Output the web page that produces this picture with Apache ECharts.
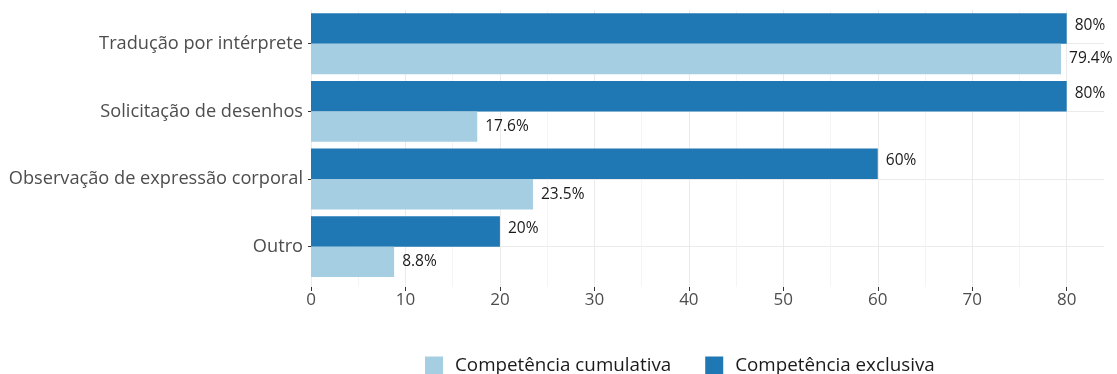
<!DOCTYPE html>
<html>
<head>
<meta charset="utf-8">
<script src="https://cdn.jsdelivr.net/npm/echarts@6/dist/echarts.min.js"></script>
<style>
  html, body { margin: 0; padding: 0; background: #ffffff; }
  #chart { width: 1117px; height: 374px; }
</style>
</head>
<body>
<div id="chart"></div>
<script>
// Categories, top to bottom
const categories = [
  'Tradução por intérprete',
  'Solicitação de desenhos',
  'Observação de expressão corporal',
  'Outro'
];
// Series names
const nameExclusiva = 'Competência exclusiva';
const nameCumulativa = 'Competência cumulativa';
// Percent values per category
const exclusivaValues = [80, 80, 60, 20];
const cumulativaValues = [79.4, 17.6, 23.5, 8.8];
// Value axis range and step
const xMin = 0;
const xMax = 80;
const xStep = 10;

const FONT = 'Open Sans';
const chart = echarts.init(document.getElementById('chart'), null, { renderer: 'canvas' });

function valueLabel(dy) {
  return {
    show: true,
    position: 'right',
    distance: 8,
    offset: [0, dy],
    color: '#1a1a1a',
    fontFamily: FONT,
    fontSize: 15.5,
    formatter: p => p.value + '%'
  };
}

chart.setOption({
  animation: false,
  backgroundColor: '#ffffff',
  textStyle: { fontFamily: FONT },
  grid: [
    // bars
    { left: 311, right: 50.3, top: 9.9, bottom: 93.5 },
    // vertical grid lines + x axis
    { left: 311, right: 50.3, top: 10, bottom: 87 },
    // horizontal grid lines at category centres + y labels
    { left: 311, right: 13, top: 43.7, bottom: 127.3 }
  ],
  xAxis: [
    { gridIndex: 0, type: 'value', min: xMin, max: xMax, interval: xStep, show: false },
    {
      gridIndex: 1, type: 'value', min: xMin, max: xMax, interval: xStep,
      axisLine: { show: false },
      axisTick: { show: true, length: 4, lineStyle: { color: '#333333', width: 1 } },
      axisLabel: { margin: 5, color: '#4d4d4d', fontSize: 17, fontFamily: FONT },
      splitLine: { show: true, lineStyle: { color: '#ebebeb', width: 1 } },
      minorTick: { show: false, splitNumber: 2 },
      minorSplitLine: { show: true, lineStyle: { color: '#f4f4f4', width: 1 } }
    },
    { gridIndex: 2, type: 'value', min: 0, max: 1, show: false }
  ],
  yAxis: [
    { gridIndex: 0, type: 'category', data: categories, inverse: true, show: false },
    { gridIndex: 1, type: 'value', show: false },
    {
      gridIndex: 2, type: 'category', data: categories, inverse: true, boundaryGap: false,
      axisLine: { show: false },
      axisTick: { show: true, length: 3, interval: 0, lineStyle: { color: '#333333', width: 1 } },
      axisLabel: { margin: 8, color: '#4d4d4d', fontSize: 18.2, fontFamily: FONT, interval: 0 },
      splitLine: { show: true, interval: 0, lineStyle: { color: '#ebebeb', width: 1 } }
    }
  ],
  legend: {
    data: [nameCumulativa, nameExclusiva],
    left: 425,
    top: 356,
    padding: 0,
    icon: 'rect',
    itemWidth: 18,
    itemHeight: 18,
    itemGap: 34,
    textStyle: { color: '#1a1a1a', fontSize: 18.8, fontFamily: FONT, padding: [7, 0, 0, 7] }
  },
  series: [
    {
      name: nameExclusiva, type: 'bar', xAxisIndex: 0, yAxisIndex: 0,
      data: exclusivaValues, barGap: '0%', barCategoryGap: '10%',
      itemStyle: { color: '#1f78b4' }, label: valueLabel(-3)
    },
    {
      name: nameCumulativa, type: 'bar', xAxisIndex: 0, yAxisIndex: 0,
      data: cumulativaValues, barGap: '0%', barCategoryGap: '10%',
      itemStyle: { color: '#a6cee3' }, label: valueLabel(0)
    }
  ]
});
</script>
</body>
</html>
